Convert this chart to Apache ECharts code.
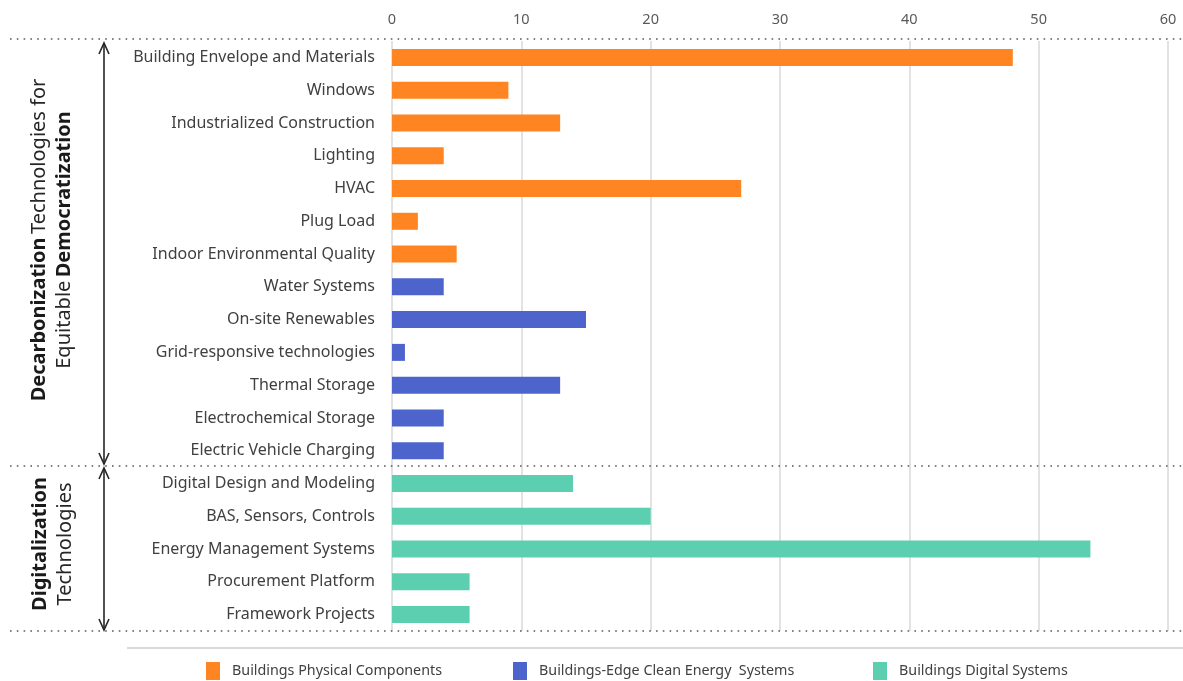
<!DOCTYPE html>
<html><head><meta charset="utf-8">
<script src="https://cdn.jsdelivr.net/npm/echarts@6/dist/echarts.min.js"></script>
<style>html,body{margin:0;padding:0;background:#fff}#c{width:1183px;height:681px}</style>
</head><body><div id="c"></div>
<script>
var categories = ["Building Envelope and Materials","Windows","Industrialized Construction","Lighting","HVAC","Plug Load","Indoor Environmental Quality","Water Systems","On-site Renewables","Grid-responsive technologies","Thermal Storage","Electrochemical Storage","Electric Vehicle Charging","Digital Design and Modeling","BAS, Sensors, Controls","Energy Management Systems","Procurement Platform","Framework Projects"];
var physicalValues = [48,9,13,4,27,2,5,null,null,null,null,null,null,null,null,null,null,null];
var cleanEnergyValues = [null,null,null,null,null,null,null,4,15,1,13,4,4,null,null,null,null,null];
var digitalValues = [null,null,null,null,null,null,null,null,null,null,null,null,null,14,20,54,6,6];
var seriesNames = ["Buildings Physical Components","Buildings-Edge Clean Energy  Systems","Buildings Digital Systems"];
var tickValues = [0,10,20,30,40,50,60];

var FONT = "'Noto Sans', sans-serif";
var colors = ["#FF8422","#4D64CC","#5CCFB0"];
var chart = echarts.init(document.getElementById('c'));

function dotted(y){return {type:'line',shape:{x1:10,y1:y,x2:1183,y2:y},style:{stroke:'#595959',lineWidth:1.6,lineDash:[1.6,5.2]},z:10};}
function arrowHead(x,y,dir){return {type:'polyline',shape:{points:[[x-5,y-dir*11],[x,y],[x+5,y-dir*11]]},style:{stroke:'#262626',lineWidth:1.6,fill:null},z:10};}

chart.setOption({
  animation:false,
  grid:{left:392,right:15,top:41,bottom:50,containLabel:false},
  xAxis:{type:'value',position:'top',min:tickValues[0],max:tickValues[tickValues.length-1],interval:10,
    axisLine:{show:false},axisTick:{show:false},
    axisLabel:{color:'#595959',fontSize:14.5,fontFamily:FONT,margin:14},
    splitLine:{show:true,lineStyle:{color:'#d9d9d9',width:1.5}}},
  yAxis:{type:'category',data:categories,inverse:true,
    axisLine:{show:false},axisTick:{show:false},
    axisLabel:{color:'#404040',fontSize:16,fontFamily:FONT,margin:17}},
  legend:[0,1,2].map(function(i){return {data:[seriesNames[i]],left:[206,513,873][i],top:662,itemWidth:14,itemHeight:18,itemGap:10,icon:'rect',
    textStyle:{color:'#404040',fontSize:14.3,fontFamily:FONT,padding:[0,0,0,7]},padding:0};}),
  series:[
    {name:seriesNames[0],type:'bar',stack:'s',data:physicalValues,barWidth:17,itemStyle:{color:colors[0]}},
    {name:seriesNames[1],type:'bar',stack:'s',data:cleanEnergyValues,barWidth:17,itemStyle:{color:colors[1]}},
    {name:seriesNames[2],type:'bar',stack:'s',data:digitalValues,barWidth:17,itemStyle:{color:colors[2]}}
  ],
  graphic:[
    dotted(39),dotted(466),dotted(631),
    {type:'line',shape:{x1:127,y1:648,x2:1183,y2:648},style:{stroke:'#d9d9d9',lineWidth:2}},
    {type:'line',shape:{x1:104,y1:43,x2:104,y2:464},style:{stroke:'#262626',lineWidth:1.6}},
    arrowHead(104,43,-1),arrowHead(104,464,1),
    {type:'line',shape:{x1:104,y1:468,x2:104,y2:630},style:{stroke:'#262626',lineWidth:1.6}},
    arrowHead(104,468,-1),arrowHead(104,630,1),
    {type:'text',x:52,y:240,rotation:Math.PI/2,style:{
      text:'{b|Decarbonization} {n|Technologies for}\n{n|Equitable} {b|Democratization}',
      align:'center',verticalAlign:'middle',lineHeight:25,
      rich:{b:{fontWeight:'bold',fontSize:20,fontFamily:FONT,fill:'#1a1a1a',lineHeight:25},n:{fontSize:20,fontFamily:FONT,fill:'#262626',lineHeight:25}}}},
    {type:'text',x:53,y:544,rotation:Math.PI/2,style:{
      text:'{b|Digitalization}\n{n|Technologies}',
      align:'center',verticalAlign:'middle',lineHeight:25,
      rich:{b:{fontWeight:'bold',fontSize:20,fontFamily:FONT,fill:'#1a1a1a',lineHeight:25},n:{fontSize:20,fontFamily:FONT,fill:'#262626',lineHeight:25}}}}
  ]
});
</script></body></html>
